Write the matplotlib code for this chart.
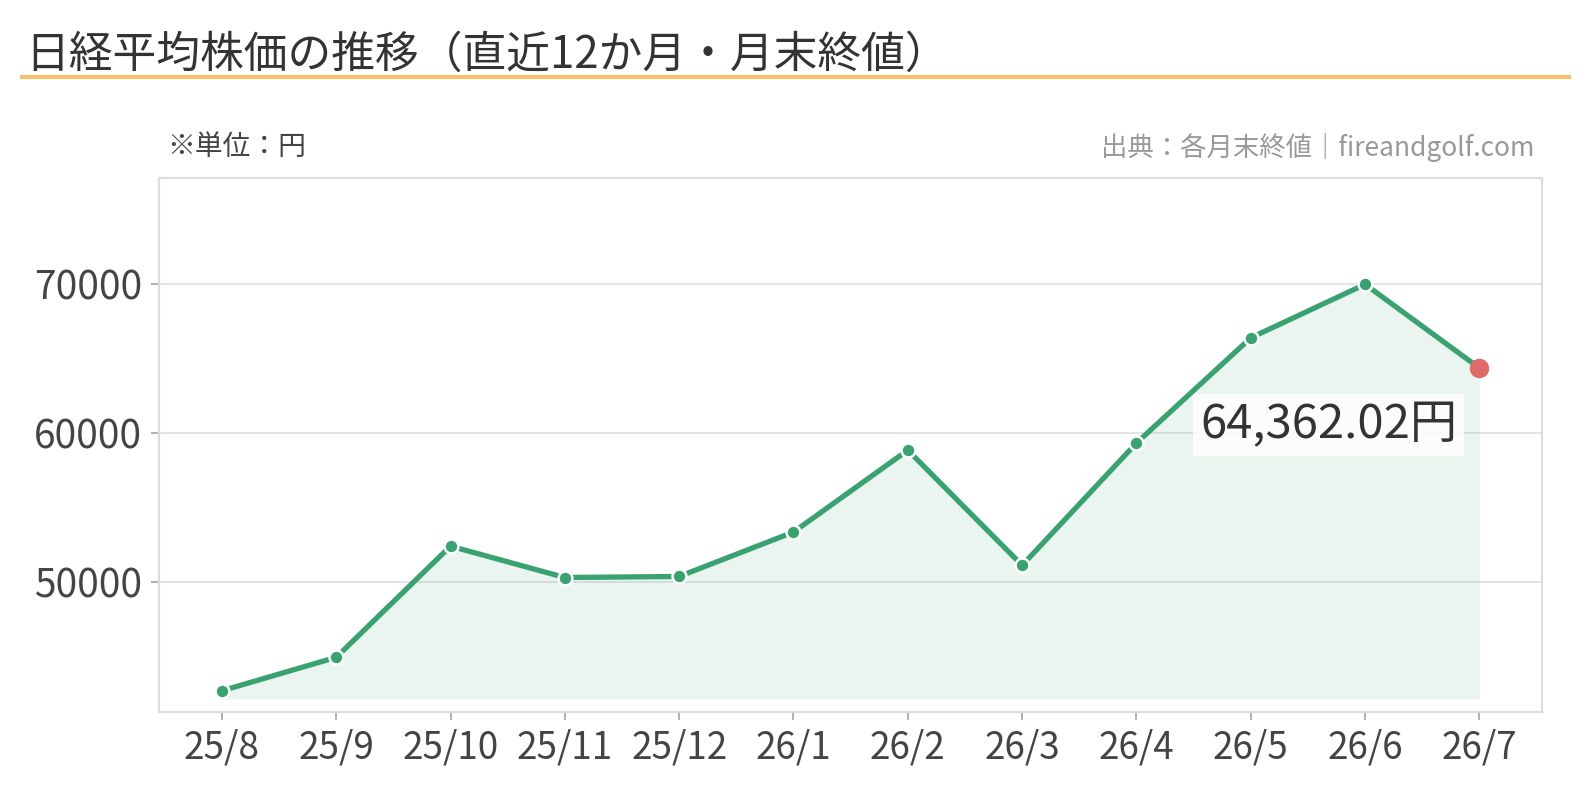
import matplotlib.pyplot as plt
from matplotlib.lines import Line2D

plt.rcParams['font.family'] = ['Noto Sans CJK JP', 'DejaVu Sans']

# 月末終値（読み取り値）
months = ['25/8', '25/9', '25/10', '25/11', '25/12', '26/1',
          '26/2', '26/3', '26/4', '26/5', '26/6', '26/7']
closes = [42650, 44900, 52380, 50270, 50340, 53330,
          58840, 51090, 59320, 66400, 70000, 64362.02]
yticks = [50000, 60000, 70000]

green = '#3aa271'
red = '#e06a6a'
grey_txt = '#444444'

fig = plt.figure(figsize=(15.9, 8.1), dpi=100)
ax = fig.add_axes([0.1, 0.121, 0.87, 0.659])

x = list(range(len(months)))
base = min(closes) * 0.987
ax.fill_between(x, closes, base, color=green, alpha=0.1, lw=0)
ax.plot(x, closes, color=green, lw=3.8, zorder=3)
ax.plot(x[:-1], closes[:-1], 'o', ms=10, color=green, mec='white', mew=1.8, zorder=4)
ax.plot(x[-1], closes[-1], 'o', ms=13, color=red, mec=red, zorder=5)

ax.annotate(f'{closes[-1]:,.2f}円', (x[-1], closes[-1]),
            xytext=(-16, -41), textcoords='offset points',
            ha='right', va='center', fontsize=34, color='#333333',
            bbox=dict(boxstyle='square,pad=0.15', fc='white', ec='none', alpha=0.85),
            zorder=6)

ax.set_xlim(-0.55, 11.55)
ax.set_ylim(min(closes) * 0.9665, max(closes) * 1.102)
ax.set_xticks(x)
ax.set_xticklabels(months)
ax.set_yticks(yticks)
ax.tick_params(axis='both', colors='#aaaaaa', labelcolor=grey_txt,
               length=6, width=1.3, pad=6)
ax.tick_params(axis='x', labelsize=26.5)
ax.tick_params(axis='y', labelsize=28)
ax.grid(axis='y', color='#e2e2e2', lw=1.3)
ax.set_axisbelow(True)
for s in ax.spines.values():
    s.set_color('#dddddd')
    s.set_linewidth(1.6)

fig.text(0.016, 0.932, '日経平均株価の推移（直近12か月・月末終値）',
         fontsize=31.5, color='#333333', va='center', ha='left')
fig.add_artist(Line2D([0.0138, 0.987], [0.905, 0.905],
                      color='#f5c26b', lw=3))
fig.text(0.105, 0.818, '※単位：円', fontsize=20, color=grey_txt, va='center')
fig.text(0.965, 0.818, '出典：各月末終値｜fireandgolf.com', fontsize=19,
         color='#999999', va='center', ha='right')

fig.savefig('out.png', dpi=100)
